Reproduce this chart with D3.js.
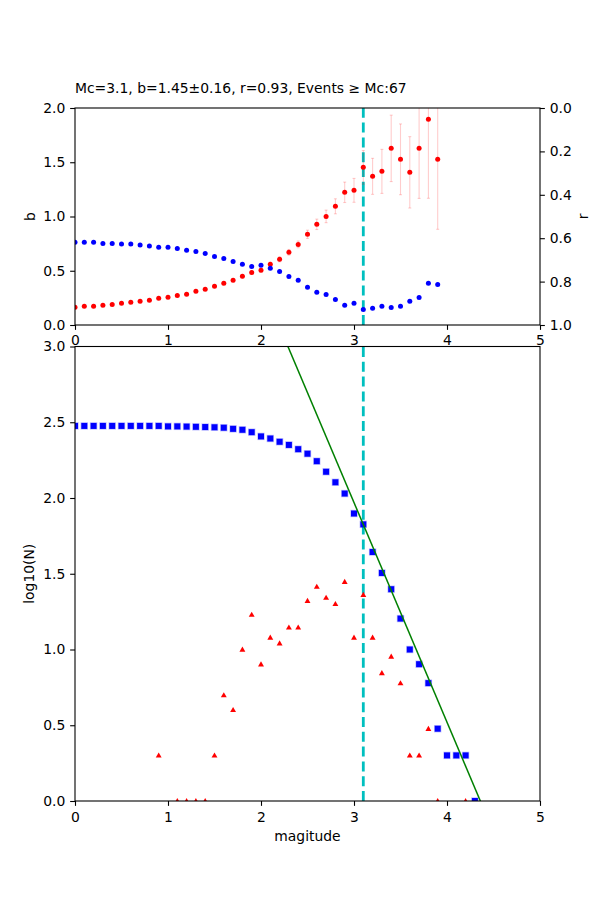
<!DOCTYPE html>
<html>
<head>
	<title> b-value chart </title>
	<script src="https://d3js.org/d3.v7.min.js"></script>
	<style>
		body { margin: 0; background: white; }
		text { font-family: "DejaVu Sans", sans-serif; }
	</style>
</head>

<body>
	<div id="vis">
		<svg></svg>
	</div>

	<script type="text/javascript">

		// values
		const title_text = "Mc=3.1, b=1.45\u00b10.16, r=0.93, Events \u2265 Mc:67";
		const mc = 3.1;
		const gr_a = 6.32;
		const gr_b = 1.45;

		// top panel: b value (left axis) and r (right axis, inverted) per cut-off magnitude
		const top_mags = [0.0,0.1,0.2,0.3,0.4,0.5,0.6,0.7,0.8,0.9,1.0,1.1,1.2,1.3,1.4,1.5,1.6,1.7,1.8,1.9,
			2.0,2.1,2.2,2.3,2.4,2.5,2.6,2.7,2.8,2.9,3.0,3.1,3.2,3.3,3.4,3.5,3.6,3.7,3.8,3.9];
		const b_values = [0.163,0.172,0.172,0.181,0.190,0.200,0.209,0.218,0.227,0.246,0.255,0.273,0.283,0.310,0.329,0.356,0.384,0.412,0.449,0.485,
			0.504,0.559,0.605,0.670,0.743,0.836,0.928,1.001,1.094,1.223,1.241,1.453,1.370,1.416,1.628,1.527,1.407,1.628,1.896,1.527];
		const b_errors = [0.003,0.003,0.003,0.003,0.004,0.004,0.004,0.005,0.005,0.006,0.006,0.007,0.008,0.009,0.010,0.011,0.012,0.013,0.014,0.015,
			0.016,0.019,0.022,0.026,0.031,0.038,0.048,0.058,0.069,0.094,0.110,0.155,0.166,0.203,0.306,0.326,0.329,0.461,0.728,0.645];
		const r_values = [0.619,0.619,0.619,0.624,0.624,0.627,0.627,0.631,0.636,0.642,0.642,0.647,0.656,0.661,0.670,0.684,0.693,0.707,0.720,0.730,
			0.725,0.739,0.753,0.776,0.794,0.826,0.849,0.859,0.882,0.909,0.900,0.928,0.923,0.914,0.919,0.914,0.891,0.873,0.808,0.813];

		// bottom panel: cumulative and per-bin event counts
		const bot_mags = [0.0,0.1,0.2,0.3,0.4,0.5,0.6,0.7,0.8,0.9,1.0,1.1,1.2,1.3,1.4,1.5,1.6,1.7,1.8,1.9,
			2.0,2.1,2.2,2.3,2.4,2.5,2.6,2.7,2.8,2.9,3.0,3.1,3.2,3.3,3.4,3.5,3.6,3.7,3.8,3.9,4.0,4.1,4.2,4.3];
		const cum_counts = [299,299,299,299,299,299,299,299,299,299,297,297,296,295,294,293,291,286,282,272,
			255,247,235,224,210,196,175,149,127,107,79,67,44,32,25,16,10,8,6,3,2,2,2,1];
		const bin_counts = [0,0,0,0,0,0,0,0,0,2,0,1,1,1,1,2,5,4,10,17,
			8,12,11,14,14,21,26,22,20,28,12,23,12,7,9,6,2,2,3,1,0,0,1,1];

		const x_ticks = [0,1,2,3,4,5];
		const b_ticks = [0.0,0.5,1.0,1.5,2.0];
		const r_ticks = [0.0,0.2,0.4,0.6,0.8,1.0];
		const n_ticks = [0.0,0.5,1.0,1.5,2.0,2.5,3.0];

		const w = 600;
		const h = 900;
		const font_size = 13.9;
		const tick_len = 4.86;
		const line_w = 1.1;

		const svg = d3.select("svg").attr("width", w).attr("height", h);
		svg.append("rect").attr("width", w).attr("height", h).style("fill", "white");

		const top_box = {left: 75, right: 540, top: 108, bottom: 325};
		const bot_box = {left: 75, right: 540, top: 346.5, bottom: 801};

		const x_scale = d3.scaleLinear().domain([0, 5]).range([top_box.left, top_box.right]);
		const b_scale = d3.scaleLinear().domain([0, 2]).range([top_box.bottom, top_box.top]);
		const r_scale = d3.scaleLinear().domain([0, 1]).range([top_box.top, top_box.bottom]);
		const n_scale = d3.scaleLinear().domain([0, 3]).range([bot_box.bottom, bot_box.top]);

		const defs = svg.append("defs");
		function addClip(id, box) {
			defs.append("clipPath").attr("id", id).append("rect")
				.attr("x", box.left).attr("y", box.top)
				.attr("width", box.right - box.left).attr("height", box.bottom - box.top);
		}
		addClip("clip_top", top_box);
		addClip("clip_bot", bot_box);

		function mcLine(g, box) {
			// drawn bottom to top so the dash pattern starts at the bottom, like matplotlib
			g.append("line")
				.attr("x1", x_scale(mc)).attr("x2", x_scale(mc))
				.attr("y1", box.bottom).attr("y2", box.top)
				.style("stroke", "#00bfbf").style("stroke-width", 2.8)
				.style("stroke-dasharray", "10,4.8");
		}

		/* ---------- top panel ---------- */
		const top_data = top_mags.map((m, i) => ({m: m, b: b_values[i], e: b_errors[i], r: r_values[i]}));
		const top_g = svg.append("g").attr("clip-path", "url(#clip_top)");
		mcLine(top_g, top_box);

		const bars = top_g.append("g").style("stroke", "#ff0000").style("stroke-opacity", 0.2).style("stroke-width", 1.1);
		bars.selectAll("line.bar").data(top_data).join("line").attr("class", "bar")
			.attr("x1", d => x_scale(d.m)).attr("x2", d => x_scale(d.m))
			.attr("y1", d => b_scale(d.b - d.e)).attr("y2", d => b_scale(d.b + d.e));
		bars.selectAll("line.cap_hi").data(top_data).join("line").attr("class", "cap_hi")
			.attr("x1", d => x_scale(d.m) - 1.5).attr("x2", d => x_scale(d.m) + 1.5)
			.attr("y1", d => b_scale(d.b + d.e)).attr("y2", d => b_scale(d.b + d.e));
		bars.selectAll("line.cap_lo").data(top_data).join("line").attr("class", "cap_lo")
			.attr("x1", d => x_scale(d.m) - 1.5).attr("x2", d => x_scale(d.m) + 1.5)
			.attr("y1", d => b_scale(d.b - d.e)).attr("y2", d => b_scale(d.b - d.e));

		top_g.selectAll("circle.bdot").data(top_data).join("circle").attr("class", "bdot")
			.attr("cx", d => x_scale(d.m)).attr("cy", d => b_scale(d.b)).attr("r", 2.5)
			.style("fill", "#ff0000");
		top_g.selectAll("circle.rdot").data(top_data).join("circle").attr("class", "rdot")
			.attr("cx", d => x_scale(d.m)).attr("cy", d => r_scale(d.r)).attr("r", 2.5)
			.style("fill", "#0000ff");

		/* ---------- bottom panel ---------- */
		const bot_data = bot_mags.map((m, i) => ({m: m, cum: cum_counts[i], n: bin_counts[i]}));
		const bot_g = svg.append("g").attr("clip-path", "url(#clip_bot)");
		mcLine(bot_g, bot_box);

		const tri = d3.symbol().type(d3.symbolTriangle).size(15);
		bot_g.selectAll("path.tri").data(bot_data.filter(d => d.n > 0)).join("path").attr("class", "tri")
			.attr("d", tri)
			.attr("transform", d => "translate(" + x_scale(d.m) + "," + (n_scale(Math.log10(d.n)) + 0.5) + ")")
			.style("fill", "#ff0000");

		const sq = 6;
		bot_g.selectAll("rect.sq").data(bot_data).join("rect").attr("class", "sq")
			.attr("x", d => x_scale(d.m) - sq / 2).attr("y", d => n_scale(Math.log10(d.cum)) - sq / 2)
			.attr("width", sq).attr("height", sq)
			.style("fill", "#0000ff").style("stroke", "rgba(0,0,255,0.25)").style("stroke-width", 1.4);

		const gr_line = d3.line().x(d => x_scale(d)).y(d => n_scale(gr_a - gr_b * d));
		bot_g.append("path").datum([0, 5]).attr("d", gr_line)
			.style("fill", "none").style("stroke", "#008000").style("stroke-width", 1.5);

		/* ---------- axes ---------- */
		function styleAxis(g) {
			g.select(".domain").remove();
			g.selectAll(".tick line").style("stroke", "black").style("stroke-width", line_w);
			g.selectAll(".tick text").style("font-size", font_size + "px").style("fill", "black")
				.style("font-family", "DejaVu Sans");
		}
		function frame(box) {
			svg.append("rect").attr("x", box.left).attr("y", box.top)
				.attr("width", box.right - box.left).attr("height", box.bottom - box.top)
				.style("fill", "none").style("stroke", "black").style("stroke-width", line_w);
		}

		frame(top_box);
		frame(bot_box);

		svg.append("g").attr("transform", "translate(0," + top_box.bottom + ")")
			.call(d3.axisBottom(x_scale).tickValues(x_ticks).tickFormat(d3.format("d")).tickSize(tick_len).tickPadding(tick_len))
			.call(styleAxis);
		svg.append("g").attr("transform", "translate(" + top_box.left + ",0)")
			.call(d3.axisLeft(b_scale).tickValues(b_ticks).tickFormat(d3.format(".1f")).tickSize(tick_len).tickPadding(tick_len))
			.call(styleAxis);
		svg.append("g").attr("transform", "translate(" + top_box.right + ",0)")
			.call(d3.axisRight(r_scale).tickValues(r_ticks).tickFormat(d3.format(".1f")).tickSize(tick_len).tickPadding(tick_len))
			.call(styleAxis);

		svg.append("g").attr("transform", "translate(0," + bot_box.bottom + ")")
			.call(d3.axisBottom(x_scale).tickValues(x_ticks).tickFormat(d3.format("d")).tickSize(tick_len).tickPadding(tick_len + 1))
			.call(styleAxis);
		svg.append("g").attr("transform", "translate(" + bot_box.left + ",0)")
			.call(d3.axisLeft(n_scale).tickValues(n_ticks).tickFormat(d3.format(".1f")).tickSize(tick_len).tickPadding(tick_len))
			.call(styleAxis);

		/* ---------- labels ---------- */
		svg.append("text").attr("x", top_box.left).attr("y", 93)
			.style("font-size", font_size + "px").text(title_text);
		svg.append("text").attr("transform", "translate(35," + (top_box.top + top_box.bottom) / 2 + ") rotate(-90)")
			.attr("text-anchor", "middle").style("font-size", font_size + "px").text("b");
		svg.append("text").attr("transform", "translate(588.3," + (top_box.top + top_box.bottom) / 2 + ") rotate(-90)")
			.attr("text-anchor", "middle").style("font-size", font_size + "px").text("r");
		svg.append("text").attr("transform", "translate(33.5," + (bot_box.top + bot_box.bottom) / 2 + ") rotate(-90)")
			.attr("text-anchor", "middle").style("font-size", font_size + "px").text("log10(N)");
		svg.append("text").attr("x", (bot_box.left + bot_box.right) / 2).attr("y", 841)
			.attr("text-anchor", "middle").style("font-size", font_size + "px").text("magitude");

	</script>
</body>
</html>
